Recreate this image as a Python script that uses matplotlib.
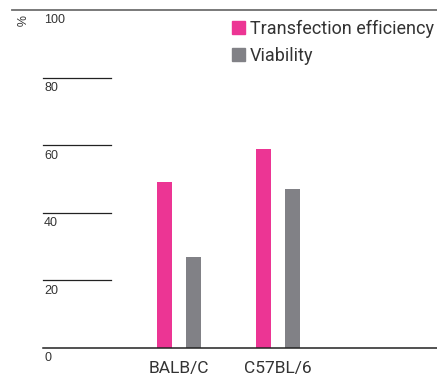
import numpy as np
import matplotlib.pyplot as plt
from matplotlib.patches import Patch

# data
strains = ['BALB/C', 'C57BL/6']
transfection = [49, 59]
viability = [27, 47]
yticks = [0, 20, 40, 60, 80, 100]

pink = '#ec3594'
grey = '#818186'
txt = '#333333'

W, H = 437, 376
fig = plt.figure(figsize=(W / 100, H / 100), dpi=100)
# axes span: x 43..437 px, y 0 at 348 px, 100 at 10 px
ax = fig.add_axes([43 / W, (H - 348) / H, (W - 43) / W, (348 - 10) / H])

x = np.arange(len(strains))
width = 0.152
ax.bar(x - 0.15, transfection, width, color=pink, label='Transfection efficiency')
ax.bar(x + 0.15, viability, width, color=grey, label='Viability')

ax.set_xlim(-(179 - 43) / 99, (437 - 179) / 99)
ax.set_ylim(0, 100)
ax.axis('off')

# short grid stubs, full baseline and top rule
for v in yticks:
    if v == 0:
        ax.plot([0, 1], [0, 0], color='#222222', lw=1.1,
                transform=ax.get_yaxis_transform(), clip_on=False)
    elif v == 100:
        ax.plot([-31 / 394, 1], [100, 100], color='#6e6e6e', lw=1.3,
                transform=ax.get_yaxis_transform(), clip_on=False)
    else:
        ax.plot([0, 68 / 394], [v, v], color='#222222', lw=0.9,
                transform=ax.get_yaxis_transform(), clip_on=False)
    ax.text(0.003, v - 3.1, str(v), transform=ax.get_yaxis_transform(),
            ha='left', va='center', fontsize=9, color=txt,
            family='Liberation Sans')

fig.text(18 / W, 1 - 21 / H, '%', rotation=-90, ha='center', va='center',
         fontsize=9, color=txt, family='Liberation Sans')

for xi, s in zip(x, strains):
    ax.text(xi, -6, s, ha='center', va='center', fontsize=12.5,
            color=txt, family='Roboto')

handles = [Patch(color=pink), Patch(color=grey)]
fig.legend(handles, ['Transfection efficiency', 'Viability'],
           loc='upper left', bbox_to_anchor=(232 / W, 1 - 20 / H),
           frameon=False, borderpad=0, borderaxespad=0,
           handlelength=0.72, handleheight=0.72, handletextpad=0.25,
           labelspacing=0.5, prop={'family': 'Roboto', 'size': 13},
           labelcolor=txt)

fig.savefig('out.png', dpi=100)
